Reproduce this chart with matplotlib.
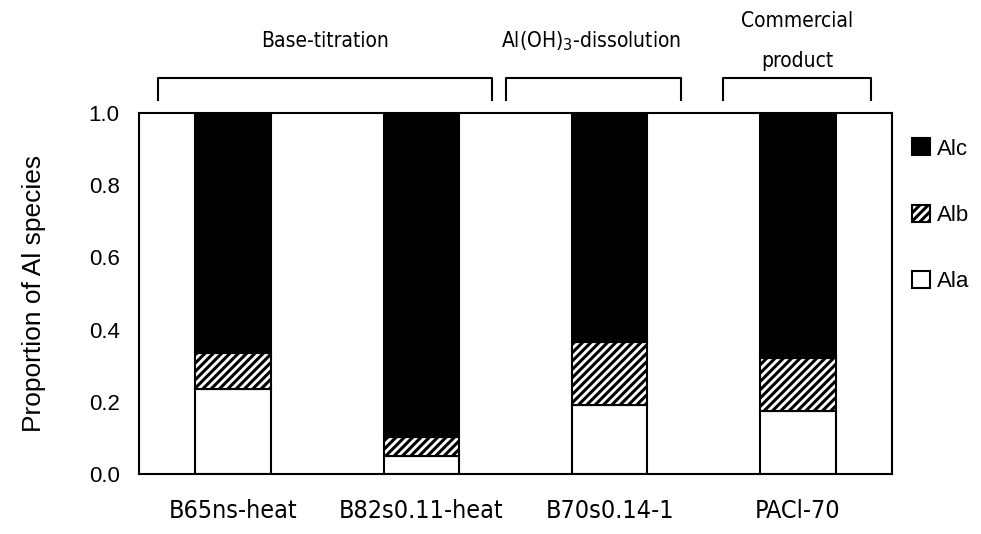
import matplotlib.pyplot as plt
import numpy as np

# datos
muestras = ['B65ns-heat', 'B82s0.11-heat', 'B70s0.14-1', 'PACl-70']
ala = [0.235, 0.05, 0.19, 0.175]
alb = [0.10, 0.053, 0.176, 0.145]
alc = [0.665, 0.897, 0.634, 0.68]

grupos = ['Base-titration', 'Al(OH)$_3$-dissolution', 'Commercial\n\nproduct']

plt.rcParams['font.family'] = ['Liberation Sans', 'DejaVu Sans']
plt.rcParams['hatch.linewidth'] = 2.2

fig = plt.figure(figsize=(9.81, 5.34), dpi=100)
ax = fig.add_axes([0.1417, 0.1124, 0.7676, 0.676])

x = np.arange(len(muestras))
ancho = 0.4
b_ala = ax.bar(x, ala, ancho, color='white', edgecolor='black', linewidth=1.5, label='Ala')
b_alb = ax.bar(x, alb, ancho, bottom=ala, color='white', edgecolor='black',
               hatch='////', linewidth=1.5, label='Alb')
base_c = np.array(ala) + np.array(alb)
b_alc = ax.bar(x, alc, ancho, bottom=base_c, color='black', edgecolor='black',
               linewidth=1.5, label='Alc')

ax.set_xlim(-0.5, 3.5)
ax.set_ylim(0, 1.0)
ax.set_yticks(np.arange(0, 1.01, 0.2))
ax.set_yticklabels(['%.1f' % v for v in np.arange(0, 1.01, 0.2)], fontsize=16)
ax.set_xticks(x)
ax.set_xticklabels(muestras, fontsize=18, family='DejaVu Sans', stretch='condensed')
ax.tick_params(length=0, pad=14)
ax.tick_params(axis='x', pad=18)
ax.set_ylabel('Proportion of Al species', fontsize=19, labelpad=31)
for s in ax.spines.values():
    s.set_linewidth(1.5)

# corchetes de los grupos
corchetes = [(-0.40, 1.375), (1.45, 2.38), (2.60, 3.39)]
for (x0, x1) in corchetes:
    ax.plot([x0, x0, x1, x1], [1.036, 1.097, 1.097, 1.036], color='black',
            linewidth=1.5, clip_on=False)
ax.text(0.488, 1.20, grupos[0], ha='center', va='center', fontsize=15,
        family='DejaVu Sans', stretch='condensed')
ax.text(1.90, 1.20, grupos[1], ha='center', va='center', fontsize=15,
        family='DejaVu Sans', stretch='condensed')
ax.text(2.995, 1.20, grupos[2], ha='center', va='center', fontsize=15,
        family='DejaVu Sans', stretch='condensed', linespacing=1.0)

ax.legend([b_alc, b_alb, b_ala], ['Alc', 'Alb', 'Ala'], loc='upper left',
          bbox_to_anchor=(1.0, 0.985), frameon=False, fontsize=16,
          labelspacing=2.03, handlelength=0.8, handleheight=0.8,
          handletextpad=0.3, borderaxespad=0.5)

plt.savefig('out.png', dpi=100)
